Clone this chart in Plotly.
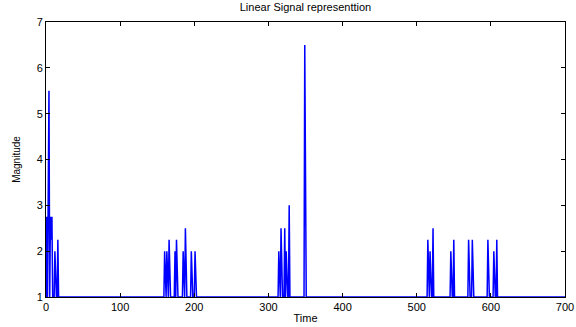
import plotly.graph_objects as go

# Spike positions (time index) and magnitudes; baseline magnitude is 1
spike_times = [1, 3, 4, 6, 7, 8, 12, 16,
               160, 163, 166, 174, 176, 185, 188, 196, 201,
               314, 317, 322, 324, 328, 349,
               515, 518, 522, 546, 550, 570, 575, 596, 604, 608]
spike_values = [2.75, 5.5, 5.5, 2.75, 2.25, 2.75, 2.0, 2.25,
                2.0, 2.0, 2.25, 2.0, 2.25, 2.0, 2.5, 2.0, 2.0,
                2.0, 2.5, 2.5, 2.0, 3.0, 6.5,
                2.25, 2.0, 2.5, 2.0, 2.25, 2.25, 2.25, 2.25, 2.0, 2.25]
baseline = 1.0
t_end = 700

time = list(range(0, t_end + 1))
lookup = dict(zip(spike_times, spike_values))
magnitude = [lookup.get(t, baseline) for t in time]

x_ticks = [0, 100, 200, 300, 400, 500, 600, 700]
y_ticks = [1, 2, 3, 4, 5, 6, 7]

FONT = "Liberation Sans, Arial"

fig = go.Figure()
fig.add_trace(go.Scatter(x=time, y=magnitude, mode="lines",
                         line=dict(color="#0000FF", width=1.5), showlegend=False))

axis_common = dict(showline=True, linecolor="black", linewidth=1, mirror="allticks",
                   ticks="inside", ticklen=4, tickcolor="black", showgrid=False,
                   zeroline=False, automargin=False,
                   tickfont=dict(family=FONT, size=11, color="black"))

fig.update_layout(
    width=576, height=327,
    margin=dict(l=46, r=11, t=22, b=30, autoexpand=False),
    paper_bgcolor="white", plot_bgcolor="white",
    title=dict(text="Linear Signal representtion", xref="paper", x=0.5, xanchor="center",
               yref="container", y=0.978, yanchor="middle", automargin=False,
               font=dict(family=FONT, size=11, color="black")),
    xaxis=dict(range=[0, 700], tickvals=x_ticks,
               title=dict(text="Time", standoff=2, font=dict(family=FONT, size=11, color="black")),
               **axis_common),
    yaxis=dict(range=[1, 7], tickvals=y_ticks,
               title=dict(text="Magnitude", standoff=14, font=dict(family=FONT, size=10, color="black")),
               **axis_common),
)

fig.write_html("out.html", config={"displayModeBar": False},
               post_script="document.body.style.margin='0';document.body.style.overflow='hidden';")
